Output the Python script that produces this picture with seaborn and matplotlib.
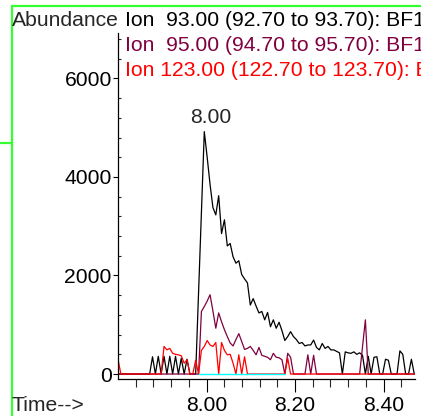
import numpy as np
import pandas as pd
import seaborn as sns
import matplotlib.pyplot as plt
from matplotlib.lines import Line2D
from matplotlib.ticker import FixedLocator, MultipleLocator, FormatStrFormatter

# scan grid of the run (minutes)
SCAN_START = 7.80
SCAN_STEP = 0.0065

ion93 = [0, 0, 0, 0, 0, 0, 0, 0, 0, 0, 0, 0,
         350, 0, 360, 0, 360, 0, 360, 0, 360, 0, 320, 0, 300, 0, 0, 0,
         1640, 3280, 4920, 4400, 3850, 3380, 3230, 3620, 2850, 3130, 2600, 2650,
         2380, 2250, 2300, 2020, 1930, 1850, 1400, 1530, 1380, 1240, 1270, 1100,
         1250, 960, 1100, 930, 1050, 880, 680, 760, 860, 760, 700, 620,
         640, 570, 590, 590, 690, 540, 490, 620, 520, 560, 490, 490,
         460, 430, 0, 450, 430, 420, 450, 400, 430, 380, 0, 360,
         0, 340, 350, 0, 0, 300, 280, 0, 0, 0, 470, 400,
         0, 0, 300, 0]
ion95 = [0] * 29 + [
    1270, 1370, 1480, 1610, 1280, 930, 1240, 1060, 900, 760, 630, 570,
    700, 820, 660, 500, 520, 560, 480, 390, 540, 380, 360, 340,
    290, 420, 340, 330, 290, 0, 420, 340, 0, 0, 0, 0,
    0, 390, 0, 380, 0, 0, 0, 0, 0, 0, 0, 0,
    0, 0, 0, 0, 0, 0, 0, 0, 550, 1100, 0, 0,
    0, 0, 0, 0, 0, 0, 0, 0, 0, 0, 0, 0,
    0, 0, 0]
ion123 = [300] + [0] * 15 + [
    560, 490, 520, 420, 400, 390, 370, 220, 290, 0, 0, 280,
    0, 480, 560, 680, 590, 560, 640, 0, 640, 480, 390, 400,
    220, 0, 390, 0, 350, 0, 0, 0, 0, 0, 0, 0,
    0, 0, 0, 0, 0, 0, 0, 320, 0] + [0] * 43
# fourth trace only present as a zero baseline between these scans
cyan_scans = (28, 59)

labels = ["Ion  93.00 (92.70 to 93.70): BF1",
          "Ion  95.00 (94.70 to 95.70): BF1",
          "Ion 123.00 (122.70 to 123.70): BF1"]
colors = ["black", "#800040", "#ff0000"]


def main():
    n = len(ion93)
    times = SCAN_START + SCAN_STEP * np.arange(n)
    df = pd.DataFrame({"time": np.tile(times, 3),
                       "abundance": ion93 + ion95 + ion123,
                       "ion": np.repeat(labels, n)})

    sns.set_style("white")
    plt.rcParams["font.family"] = ["Liberation Sans", "DejaVu Sans"]
    fs = 15.2

    W, H = 421, 416
    fig = plt.figure(figsize=(W / 100, H / 100), dpi=100)
    ax = fig.add_axes([118 / W, 1 - 379 / H, 296.5 / W, 346 / H])

    sns.lineplot(data=df, x="time", y="abundance", hue="ion",
                 palette=colors, hue_order=labels, estimator=None,
                 linewidth=0.9, legend=False, ax=ax)
    a, b = cyan_scans
    sns.lineplot(x=times[a:b], y=np.zeros(b - a), color="#00ffff",
                 linewidth=1.0, estimator=None, ax=ax)

    ax.set_xlim(7.80, 8.47)
    ax.set_ylim(-101, 6922)
    ax.set_xlabel("")
    ax.set_ylabel("")
    for s in ["top", "right"]:
        ax.spines[s].set_visible(False)
    for s in ["left", "bottom"]:
        ax.spines[s].set_color("black")
        ax.spines[s].set_linewidth(0.9)

    ax.xaxis.set_major_locator(FixedLocator([8.00, 8.20, 8.40]))
    ax.xaxis.set_minor_locator(FixedLocator(np.arange(7.84, 8.47, 0.04)))
    ax.xaxis.set_major_formatter(FormatStrFormatter("%.2f"))
    ax.yaxis.set_major_locator(MultipleLocator(2000))
    ax.yaxis.set_minor_locator(MultipleLocator(400))
    ax.tick_params(which="both", bottom=True, left=True)
    ax.tick_params(axis="x", which="major", direction="out", length=9.5,
                   width=0.8, pad=2.5, labelsize=fs, colors="black")
    ax.tick_params(axis="x", which="minor", direction="out", length=5.5,
                   width=0.8)
    ax.tick_params(axis="y", which="major", direction="out", length=3.5,
                   width=0.8, pad=1, labelsize=fs, colors="black")
    ax.tick_params(axis="y", which="minor", direction="in", length=2,
                   width=0.8)

    # retention time label on the tallest peak
    k = int(np.argmax(ion93))
    ax.annotate(f"{times[k]:.2f}", xy=(times[k], ion93[k]),
                xytext=(5, 6), textcoords="offset points",
                ha="center", va="baseline", fontsize=fs)

    fig.text(12 / W, 1 - 26 / H, "Abundance", fontsize=fs,
             va="baseline", ha="left")
    for j, (lab, col) in enumerate(zip(labels, colors)):
        fig.text(125 / W, 1 - (26 + 25 * j) / H, lab, color=col,
                 fontsize=fs, va="baseline", ha="left")
    fig.text(12 / W, 1 - 411 / H, "Time-->", fontsize=fs,
             va="baseline", ha="left")

    # window frame remnants
    green = "#33ff33"
    fig.add_artist(Line2D([12 / W, 12 / W], [0, 1 - 6 / H], color=green,
                          lw=1.6, transform=fig.transFigure))
    fig.add_artist(Line2D([12 / W, 1], [1 - 6 / H, 1 - 6 / H], color=green,
                          lw=1.6, transform=fig.transFigure))
    fig.add_artist(Line2D([0, 12 / W], [1 - 143 / H, 1 - 143 / H],
                          color=green, lw=1.6, transform=fig.transFigure))

    fig.savefig("out.png", dpi=100)


if __name__ == "__main__":
    main()
